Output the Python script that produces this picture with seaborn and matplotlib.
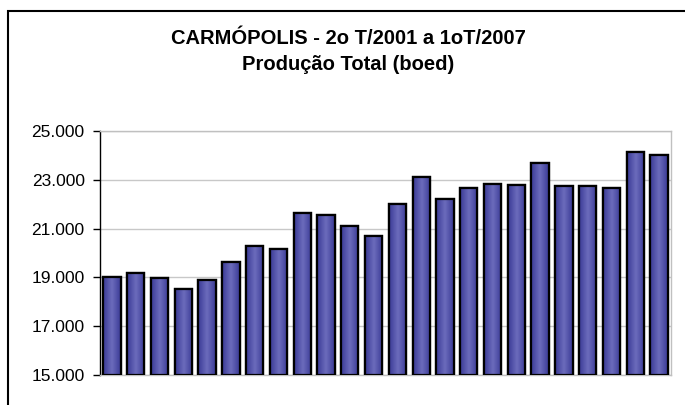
import matplotlib
matplotlib.use("Agg")
import matplotlib.pyplot as plt
import numpy as np
import pandas as pd
import seaborn as sns
from matplotlib.colors import LinearSegmentedColormap
from matplotlib.patches import Rectangle

quarters = [
    "2T01", "3T01", "4T01",
    "1T02", "2T02", "3T02", "4T02",
    "1T03", "2T03", "3T03", "4T03",
    "1T04", "2T04", "3T04", "4T04",
    "1T05", "2T05", "3T05", "4T05",
    "1T06", "2T06", "3T06", "4T06",
    "1T07",
]
production = [
    19000, 19160, 18970,
    18520, 18880, 19630, 20270,
    20180, 21620, 21560, 21110,
    20710, 22010, 23110, 22210,
    22660, 22820, 22780, 23700,
    22750, 22740, 22680, 24140,
    24030,
]
yticks = [15000, 17000, 19000, 21000, 23000, 25000]
ytick_labels = ["15.000", "17.000", "19.000", "21.000", "23.000", "25.000"]

sns.set_theme(style="white")
plt.rcParams["font.family"] = ["Liberation Sans", "DejaVu Sans"]

df = pd.DataFrame({"trimestre": quarters, "boed": production})

fig = plt.figure(figsize=(6.85, 4.05), dpi=100)
ax = fig.add_axes([100 / 685, 1 - 375 / 405, 571 / 685, 244 / 405])

sns.barplot(data=df, x="trimestre", y="boed", color="#5a5aaa", width=0.73,
            edgecolor="black", linewidth=1.6, ax=ax, zorder=3)

# horizontal shading on each bar (dark edges, lighter middle)
cmap = LinearSegmentedColormap.from_list("bar", ["#3a3a96", "#6c6cbc", "#3a3a96"])
grad = np.linspace(0, 1, 64).reshape(1, -1)
for p in ax.patches:
    x0, y0 = p.get_x(), p.get_y()
    w, h = p.get_width(), p.get_height()
    im = ax.imshow(grad, cmap=cmap, aspect="auto", extent=[x0, x0 + w, 15000, y0 + h],
                   zorder=3.5, interpolation="bilinear")
    im.set_clip_path(p)
    outline = Rectangle((x0, 15000), w, y0 + h - 15000, fill=False,
                        edgecolor="black", linewidth=1.6, zorder=4)
    ax.add_patch(outline)

ax.set_ylim(15000, 25000)
ax.set_xlim(-0.5, len(quarters) - 0.5)
ax.set_yticks(yticks)
ax.set_yticklabels(ytick_labels, fontsize=12.5, color="black")
ax.set_xticks([])
ax.set_xlabel("")
ax.set_ylabel("")
ax.yaxis.grid(True, color="#c8c8c8", linewidth=1.0, zorder=0)
ax.set_axisbelow(True)
ax.tick_params(axis="y", direction="out", length=5, width=1, color="black", pad=6, left=True)

ax.spines["left"].set_color("black")
ax.spines["left"].set_linewidth(1.0)
for side in ["top", "right", "bottom"]:
    ax.spines[side].set_color("#c0c0c0")
    ax.spines[side].set_linewidth(1.0)

fig.text(348 / 685, 1 - 44 / 405, "CARMÓPOLIS - 2o T/2001 a 1oT/2007",
         ha="center", va="baseline", fontsize=14.5, fontweight="bold", color="black")
fig.text(348 / 685, 1 - 70 / 405, "Produção Total (boed)",
         ha="center", va="baseline", fontsize=14.5, fontweight="bold", color="black")

# outer chart frame (cropped on right and bottom)
fig.patches.append(Rectangle((8 / 685, -0.05), 1.0, 1 - 11 / 405 + 0.05,
                             transform=fig.transFigure, fill=False,
                             edgecolor="black", linewidth=1.5))

fig.savefig("out.png", dpi=100)
